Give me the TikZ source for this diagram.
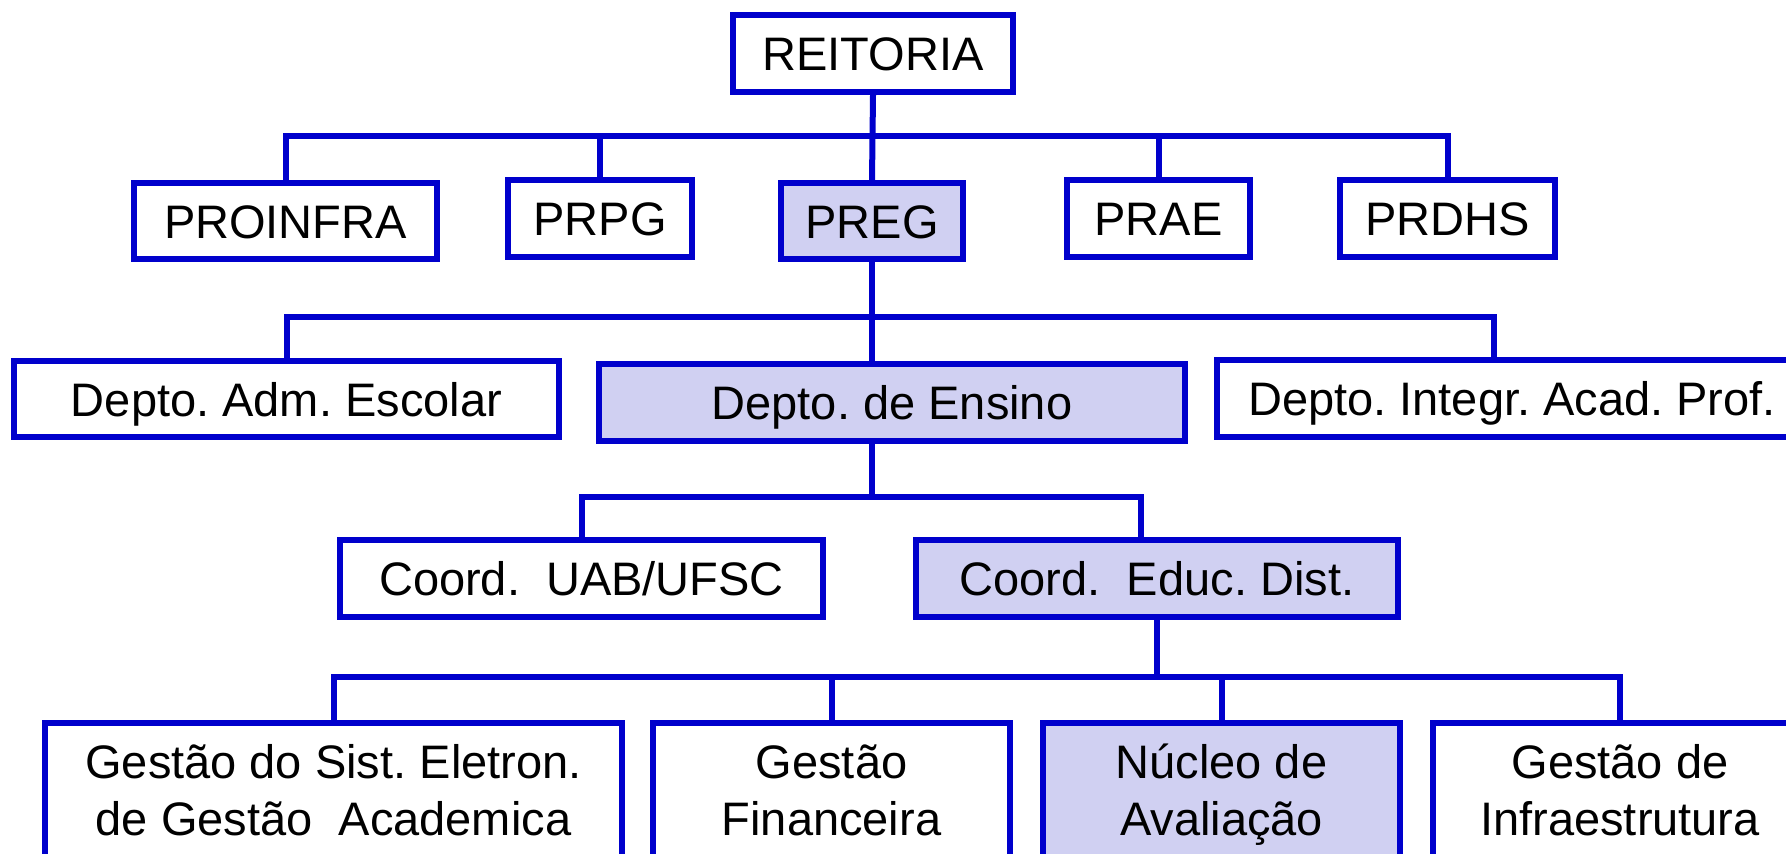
\documentclass[tikz,border=0pt]{standalone}
\usepackage{fontspec}
\setmainfont{Liberation Sans}
\frenchspacing
\definecolor{orgblue}{RGB}{0,0,204}
\definecolor{orgfill}{RGB}{208,208,242}
\tikzset{
  orgbox/.style={draw=orgblue, line width=6pt, inner sep=0pt, minimum height=77pt,
    text height=34pt, text depth=0pt, font=\fontsize{47}{57}\selectfont},
  hibox/.style={orgbox, fill=orgfill},
  tallbox/.style={orgbox, align=center, text height=91pt, minimum height=134pt},
  link/.style={draw=orgblue, line width=6pt}
}
\begin{document}
\begin{tikzpicture}[x=1pt, y=-1pt]
  \clip (0,0) rectangle (1786,854);

  \node [orgbox, minimum width=280pt] (reitoria) at (873, 53.5) {REITORIA};

  \node [orgbox, minimum width=303pt, minimum height=76pt] (proinfra) at (285.5, 221) {PROINFRA};
  \node [orgbox, minimum width=184pt] (prpg) at (600, 218.5) {PRPG};
  \node [hibox, minimum width=182pt, minimum height=76pt] (preg) at (872, 221) {PREG};
  \node [orgbox, minimum width=183pt] (prae) at (1158.5, 218.5) {PRAE};
  \node [orgbox, minimum width=215pt] (prdhs) at (1447.5, 218.5) {PRDHS};

  \node [orgbox, minimum width=545pt, minimum height=76pt] (adm) at (286.5, 399) {Depto. Adm. Escolar};
  \node [hibox, minimum width=586pt] (ensino) at (892, 402.5) {Depto. de Ensino};
  \node [orgbox, minimum width=590pt] (integr) at (1512, 398.5) {Depto. Integr. Acad. Prof.};

  \node [orgbox, minimum width=483pt] (uab) at (581.5, 578.5) {Coord.\ \ UAB/UFSC};
  \node [hibox, minimum width=482pt] (educ) at (1157, 578.5) {Coord.\ \ Educ. Dist.};

  \node [tallbox, minimum width=577pt] (sist) at (333.5, 789.5) {Gestão do Sist. Eletron.\\de Gestão\ \ Academica};
  \node [tallbox, minimum width=357pt] (financ) at (831.5, 789.5) {Gestão\\Financeira};
  \node [tallbox, fill=orgfill, minimum width=357pt] (nucleo) at (1221.5, 789.5) {Núcleo de\\Avaliação};
  \node [tallbox, minimum width=374pt] (infra) at (1620, 789.5) {Gestão de\\Infraestrutura};

  % bar levels
  \coordinate (bar1) at (0, 136);
  \coordinate (bar2) at (0, 317);
  \coordinate (bar3) at (0, 497);
  \coordinate (bar4) at (0, 677);
  \coordinate (integrin) at ([xshift=-18pt]integr.north);
  \coordinate (educin) at ([xshift=-16pt]educ.north);

  \draw [link] (reitoria.south) -- (preg.north);
  \draw [link] (proinfra.north) |- (prdhs.north |- bar1) -- (prdhs.north);
  \draw [link] (prpg.north) -- (prpg.north |- bar1);
  \draw [link] (prae.north) -- (prae.north |- bar1);

  \draw [link] (preg.south) -- (preg.south |- ensino.north);
  \draw [link] (adm.north) |- (integrin |- bar2) -- (integrin);

  \draw [link] (preg.south |- ensino.south) -- (preg.south |- bar3);
  \draw [link] (uab.north) |- (educin |- bar3) -- (educin);

  \draw [link] (educ.south) -- (educ.south |- bar4);
  \draw [link] (sist.north) |- (infra.north |- bar4) -- (infra.north);
  \draw [link] (financ.north) -- (financ.north |- bar4);
  \draw [link] (nucleo.north) -- (nucleo.north |- bar4);
\end{tikzpicture}
\end{document}
